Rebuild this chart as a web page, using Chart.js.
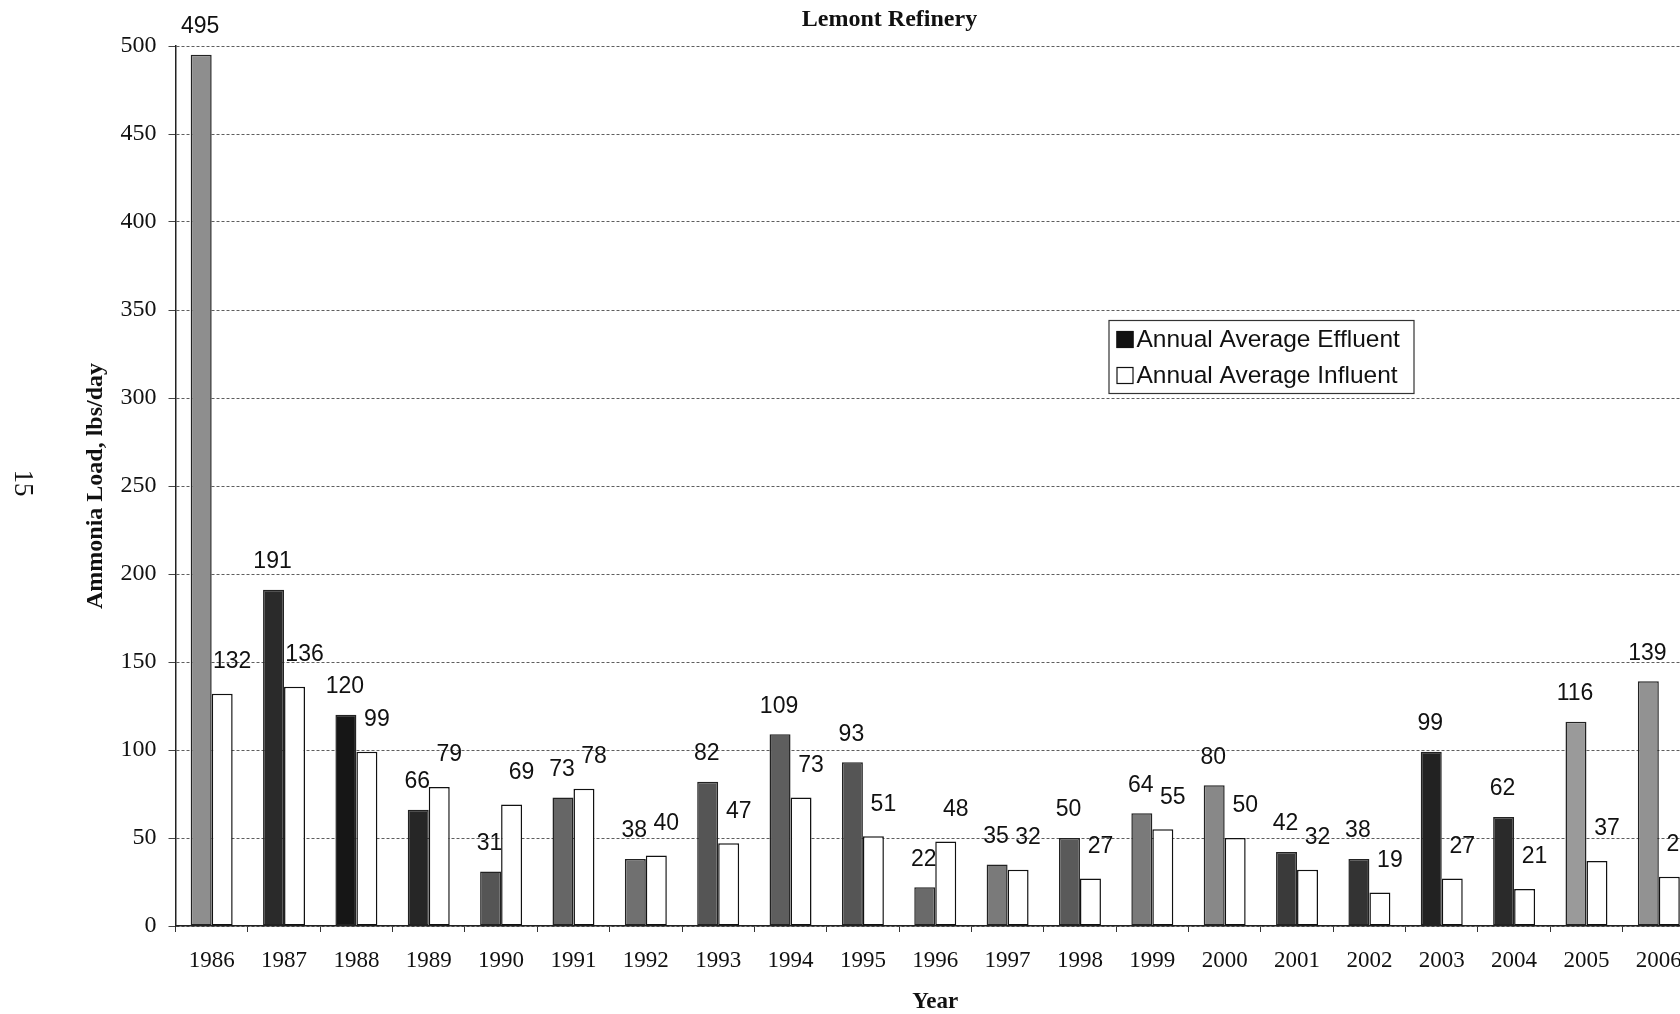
<!DOCTYPE html>
<html><head><meta charset="utf-8">
<script src="https://cdn.jsdelivr.net/npm/chart.js@4.4.1/dist/chart.umd.min.js"></script>
<style>html,body{margin:0;padding:0;background:#fff;overflow:hidden;width:1680px;height:1014px}canvas{display:block}</style>
</head><body>
<canvas id="c" width="1700" height="1014"></canvas>
<script>
const years = ['1986','1987','1988','1989','1990','1991','1992','1993','1994','1995','1996','1997','1998','1999','2000','2001','2002','2003','2004','2005','2006'];
const effluent = [495,191,120,66,31,73,38,82,109,93,22,35,50,64,80,42,38,99,62,116,139];
const influent = [132,136,99,79,69,78,40,47,73,51,48,32,27,55,50,32,19,27,21,37,28];
const yMax = 500;
const yStep = 50;
const seriesNames = ['Annual Average Effluent','Annual Average Influent'];
const chartTitle = 'Lemont Refinery';
const yTitle = 'Ammonia Load, lbs/day';
const xTitle = 'Year';
const pageNumber = '15';
const effluentShades = ['#8e8e8e','#2a2a2a','#161616','#262626','#555555','#666666','#707070','#555555','#5e5e5e','#555555','#6a6a6a','#7a7a7a','#5a5a5a','#7a7a7a','#888888','#3a3a3a','#333333','#222222','#2a2a2a','#9a9a9a','#929292'];

const SERIF = '"Liberation Serif", "Times New Roman", serif';
const SANS = '"Liberation Sans", Arial, sans-serif';

const bgPlugin = {
  id: 'bg',
  beforeDraw(chart) {
    const ctx = chart.ctx;
    ctx.save(); ctx.fillStyle = '#fff'; ctx.fillRect(0, 0, chart.width, chart.height); ctx.restore();
  }
};

const labelPlugin = {
  id: 'barLabels',
  afterDatasetsDraw(chart) {
    const ctx = chart.ctx;
    ctx.save();
    ctx.font = '23px ' + SANS;
    ctx.fillStyle = '#111';
    ctx.textAlign = 'center';
    ctx.textBaseline = 'middle';
    chart.data.datasets.forEach((ds, di) => {
      const meta = chart.getDatasetMeta(di);
      meta.data.forEach((bar, i) => {
        const dx = di === 0 ? -1 : 10;
        const dy = di === 0 ? 28 : 32;
        ctx.fillText(String(ds.data[i]), bar.x + dx, bar.y - dy);
      });
    });
    ctx.restore();
  }
};

const legendPlugin = {
  id: 'boxLegend',
  afterDraw(chart) {
    const ctx = chart.ctx;
    const a = chart.chartArea;
    const x0 = a.left + 933, y0 = a.top + 274, w = 305, h = 73;
    ctx.save();
    ctx.fillStyle = '#fff';
    ctx.fillRect(x0, y0, w, h);
    ctx.strokeStyle = '#333';
    ctx.lineWidth = 1.2;
    ctx.strokeRect(x0 + 0.5, y0 + 0.5, w, h);
    ctx.font = '24.5px ' + SANS;
    ctx.textBaseline = 'middle';
    ctx.textAlign = 'left';
    const rows = [y0 + 19, y0 + 55];
    rows.forEach((cy, i) => {
      ctx.fillStyle = i === 0 ? '#111' : '#fff';
      ctx.fillRect(x0 + 8, cy - 8, 17, 17);
      ctx.strokeStyle = '#111';
      ctx.lineWidth = 1.2;
      ctx.strokeRect(x0 + 8.5, cy - 7.5, 16, 16);
      ctx.fillStyle = '#111';
      ctx.fillText(seriesNames[i], x0 + 28, cy + 1);
    });
    ctx.restore();
  }
};

const pagePlugin = {
  id: 'pageNo',
  afterDraw(chart) {
    const ctx = chart.ctx;
    const a = chart.chartArea;
    ctx.save();
    ctx.translate(22, (a.top + a.bottom) / 2 - 3);
    ctx.rotate(Math.PI / 2);
    ctx.font = '27px ' + SERIF;
    ctx.fillStyle = '#111';
    ctx.textAlign = 'center';
    ctx.textBaseline = 'middle';
    ctx.fillText(pageNumber, 0, 0);
    ctx.restore();
  }
};

new Chart(document.getElementById('c'), {
  type: 'bar',
  data: {
    labels: years,
    datasets: [
      { label: seriesNames[0], data: effluent, backgroundColor: effluentShades, borderColor: '#222', borderWidth: 1.5, borderSkipped: false },
      { label: seriesNames[1], data: influent, backgroundColor: '#ffffff', borderColor: '#111', borderWidth: 1.5, borderSkipped: false }
    ]
  },
  options: {
    responsive: false,
    animation: false,
    devicePixelRatio: 1,
    layout: { padding: { left: 84, right: 5, top: 0, bottom: 0 } },
    datasets: { bar: { categoryPercentage: 0.58, barPercentage: 1.0 } },
    plugins: {
      legend: { display: false },
      tooltip: { enabled: false },
      title: {
        display: true, text: chartTitle, color: '#111',
        font: { family: SERIF, size: 24, weight: 'bold', lineHeight: 1 },
        padding: { top: 8, bottom: 14 }
      }
    },
    scales: {
      x: {
        offset: true,
        grid: { display: true, drawOnChartArea: false, drawTicks: true, tickLength: 6, offset: true, color: '#333', lineWidth: 1 },
        border: { display: true, color: '#222', width: 1.5 },
        ticks: { color: '#111', font: { family: SERIF, size: 23, lineHeight: 1 }, padding: 17.5, maxRotation: 0, autoSkip: false },
        title: { display: true, text: xTitle, color: '#111', font: { family: SERIF, size: 23, weight: 'bold', lineHeight: 1 }, padding: { top: 0.5, bottom: 0.5 } }
      },
      y: {
        min: 0, max: yMax,
        grid: { display: true, color: '#5e5e5e', lineWidth: 1, drawTicks: true, tickLength: 7, tickColor: '#444' },
        border: { display: true, color: '#222', width: 1.5, dash: [3, 2] },
        ticks: { stepSize: yStep, color: '#111', font: { family: SERIF, size: 24, lineHeight: 1 }, padding: 12 },
        title: { display: true, text: yTitle, color: '#111', font: { family: SERIF, size: 24, weight: 'bold', lineHeight: 1 }, padding: { top: 0, bottom: 0.5 } }
      }
    }
  },
  plugins: [bgPlugin, labelPlugin, legendPlugin, pagePlugin]
});
</script>
</body></html>
